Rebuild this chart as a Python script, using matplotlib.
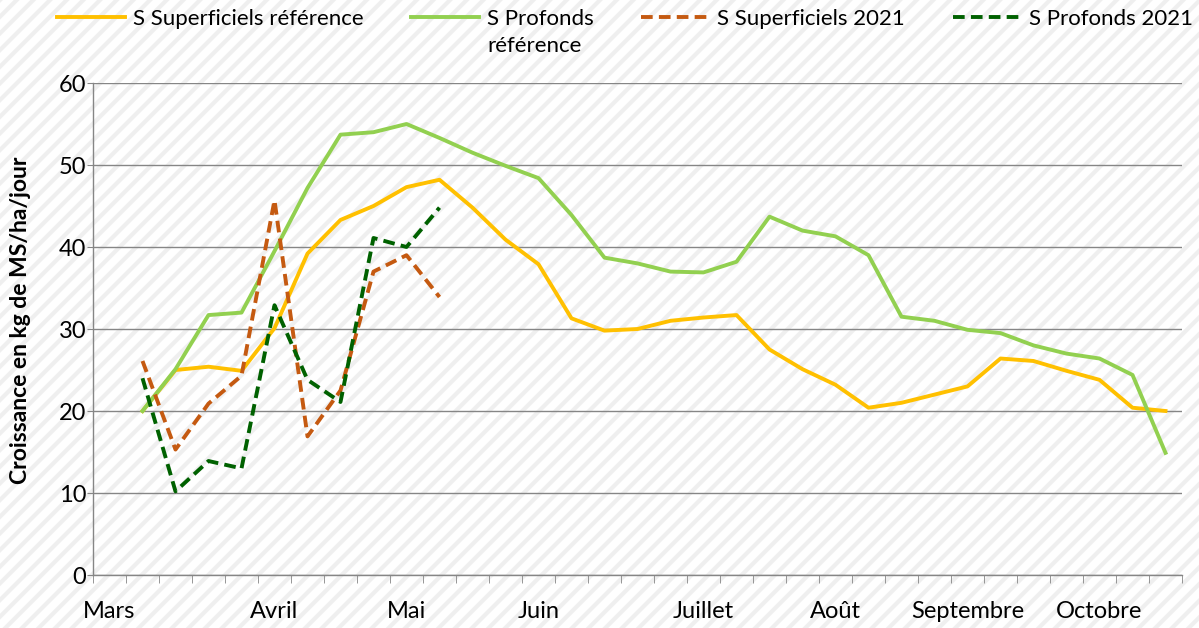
import numpy as np
import matplotlib.pyplot as plt

plt.rcParams['font.family'] = ['Lato', 'DejaVu Sans']
plt.rcParams['hatch.linewidth'] = 3.0

nan = np.nan

# 33 weekly categories, March -> October (first week has no data)
months = ["Mars", "", "", "", "", "Avril", "", "", "", "Mai", "", "", "", "Juin",
          "", "", "", "", "Juillet", "", "", "", "Août", "", "", "", "Septembre",
          "", "", "", "Octobre", "", ""]

sup_ref = [nan, 20, 25.0, 25.4, 24.9, 30.1, 39.2, 43.3, 45.0, 47.3, 48.2, 44.8, 40.9,
           37.9, 31.3, 29.8, 30.0, 31.0, 31.4, 31.7, 27.5, 25.1, 23.2, 20.4, 21.0,
           22.0, 23.0, 26.4, 26.1, 24.9, 23.8, 20.4, 20.0]
prof_ref = [nan, 20, 25.1, 31.7, 32.0, 39.5, 47.2, 53.7, 54.0, 55.0, 53.3, 51.5, 49.9,
            48.4, 43.9, 38.7, 38.0, 37.0, 36.9, 38.2, 43.7, 42.0, 41.3, 39.0, 31.5,
            31.0, 29.9, 29.5, 28.0, 27.0, 26.4, 24.4, 14.9]
sup_2021 = [nan, 26.1, 15.3, 20.9, 24.3, 45.7, 16.9, 22.5, 37.0, 39.0, 33.9]
prof_2021 = [nan, 24.0, 10.2, 13.9, 13.0, 32.9, 23.8, 21.1, 41.1, 40.0, 44.8]

fig = plt.figure(figsize=(11.99, 6.28), dpi=100)
fig.patch.set_facecolor('white')
fig.patch.set_edgecolor('#EFEFEF')
fig.patch.set_linewidth(0)
fig.patch.set_hatch('//')

ax = fig.add_axes([93 / 1199, 1 - 575 / 628, (1182 - 93) / 1199, (575 - 83) / 628])
ax.set_facecolor('none')

x = np.arange(len(months))
ax.plot(x, sup_ref, color='#FFC000', lw=2.8, label='S Superficiels référence', zorder=3)
ax.plot(x, prof_ref, color='#92D050', lw=2.8, label='S Profonds\nréférence', zorder=3)
ax.plot(x[:len(sup_2021)], sup_2021, color='#C55A11', lw=2.8, ls=(0, (3, 1.6)),
        label='S Superficiels 2021', zorder=4)
ax.plot(x[:len(prof_2021)], prof_2021, color='#006100', lw=2.8, ls=(0, (3, 1.6)),
        label='S Profonds 2021', zorder=4)

ax.set_xlim(-0.5, len(months) - 0.5)
ax.set_ylim(0, 60)
ax.set_yticks(range(0, 61, 10))
ax.set_xticks(x)
ax.set_xticklabels(months)
ax.set_xticks(np.arange(-0.5, len(months)), minor=True)
ax.tick_params(axis='x', which='major', length=0, labelsize=17, pad=19)
ax.tick_params(axis='x', which='minor', length=6, color='#868686', direction='out')
ax.tick_params(axis='y', length=4, color='#868686', labelsize=17, pad=1)
ax.grid(axis='y', color='#868686', lw=1)
ax.set_axisbelow(True)
for s in ['top', 'right']:
    ax.spines[s].set_visible(False)
for s in ['left', 'bottom']:
    ax.spines[s].set_color('#868686')
    ax.spines[s].set_linewidth(1)

ax.set_ylabel('Croissance en kg de MS/ha/jour', fontsize=16.5, fontweight='bold')
ax.yaxis.set_label_coords(-0.057, 0.518)

leg = fig.legend(loc='upper left', bbox_to_anchor=(57 / 1199, 1 - 9 / 628), ncol=4,
                 frameon=False, fontsize=16, handlelength=3.05, handletextpad=0.36,
                 columnspacing=2.15, borderpad=0, borderaxespad=0)
leg.get_texts()[1].set_linespacing(1.45)
# keep the sample line on the first line of a wrapped label
leg._legend_handle_box.align = 'top'
for col in leg._legend_handle_box.get_children():
    for item in col.get_children():
        item.align = 'top'

fig.savefig('out.png', dpi=100)
